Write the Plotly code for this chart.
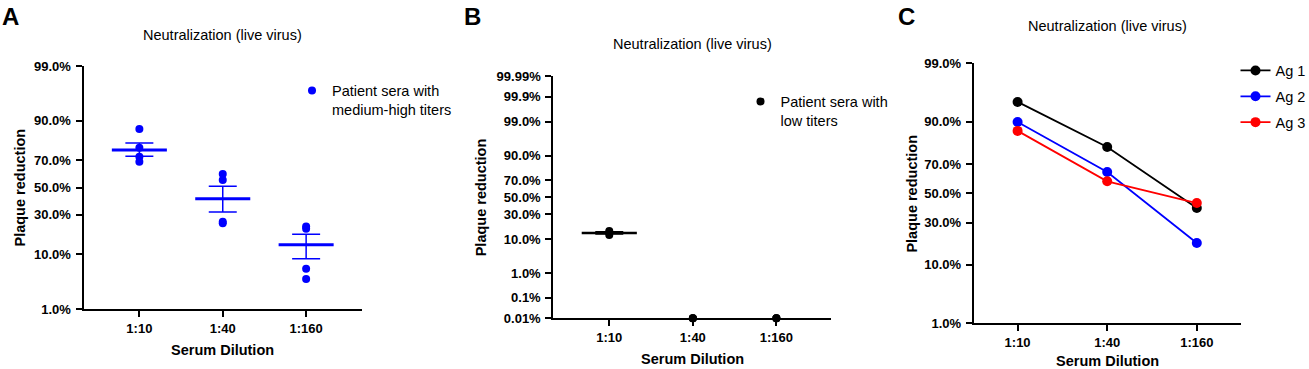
from statistics import NormalDist
import plotly.graph_objects as go

W, H = 1309, 369
FONT = "Liberation Sans, Arial, sans-serif"
nd = NormalDist()

def z(p):
    return nd.inv_cdf(p / 100.0)

# ---------------- data ----------------
categories = ["1:10", "1:40", "1:160"]

# Panel A: patient sera with medium-high titers (% plaque reduction)
a_points = [
    [86.9, 77.7, 72.2, 68.9],
    [60.2, 55.7, 25.6, 24.7],
    [22.7, 21.5, 6.0, 4.0],
]
a_mean = [76.4, 41.5, 13.6]
a_sem = [3.9, 9.5, 5.0]

# Panel B: patient sera with low titers
b_points = [
    [15.0, 13.8, 12.4],
    [0.01, 0.01, 0.01],
    [0.01, 0.01, 0.01],
]
b_mean = [13.7, None, None]
b_sem = [0.8, None, None]

# Panel C: antigens
c_series = {
    "Ag 1": [94.9, 79.6, 39.6],
    "Ag 2": [89.9, 64.8, 18.7],
    "Ag 3": [86.8, 58.5, 43.1],
}
c_colors = {"Ag 1": "#000000", "Ag 2": "#0000ff", "Ag 3": "#ff0000"}

ticks_ac = [1, 10, 30, 50, 70, 90, 99]
ticktext_ac = ["1.0%", "10.0%", "30.0%", "50.0%", "70.0%", "90.0%", "99.0%"]
ticks_b = [0.01, 0.1, 1, 10, 30, 50, 70, 90, 99, 99.9, 99.99]
ticktext_b = ["0.01%", "0.1%", "1.0%", "10.0%", "30.0%", "50.0%", "70.0%",
              "90.0%", "99.0%", "99.9%", "99.99%"]

# ---------------- layout helpers ----------------
def fx(px):
    return px / W

def fy(py):
    return 1 - py / H

panels = {
    "A": dict(x0=83.5, x1=362.0, y0=66.0, y1=309.0, xr=[-0.67, 2.67]),
    "B": dict(x0=553.3, x1=830.7, y0=76.3, y1=318.3, xr=[-0.67, 2.65]),
    "C": dict(x0=973.7, x1=1240.7, y0=63.3, y1=323.3, xr=[-0.49, 2.49]),
}

fig = go.Figure()

xs = list(range(len(categories)))

def mean_line(means, half):
    xx, yy = [], []
    for i, m in enumerate(means):
        if m is None:
            continue
        xx += [i - half, i + half, None]
        yy += [z(m), z(m), None]
    return xx, yy

def err_arrays(means, sems):
    ex, ey, up, dn = [], [], [], []
    for i, (m, s) in enumerate(zip(means, sems)):
        if m is None:
            continue
        ex.append(i)
        ey.append(z(m))
        up.append(z(min(m + s, 99.999)) - z(m))
        dn.append(z(m) - z(max(m - s, 0.001)))
    return ex, ey, up, dn

# ---- Panel A ----
px_, py_ = [], []
for i, pts in enumerate(a_points):
    for v in pts:
        px_.append(i)
        py_.append(z(v))
fig.add_trace(go.Scatter(
    x=px_, y=py_, mode="markers", xaxis="x", yaxis="y",
    marker=dict(color="#0000ff", size=8),
    name="Patient sera with<br>medium-high titers", legend="legend",
    cliponaxis=False))
mx, my = mean_line(a_mean, 0.33)
fig.add_trace(go.Scatter(x=mx, y=my, mode="lines", xaxis="x", yaxis="y",
                         line=dict(color="#0000ff", width=3), showlegend=False))
ex, ey, up, dn = err_arrays(a_mean, a_sem)
fig.add_trace(go.Scatter(
    x=ex, y=ey, mode="markers", xaxis="x", yaxis="y",
    marker=dict(size=1, color="rgba(0,0,0,0)"), showlegend=False,
    error_y=dict(type="data", symmetric=False, array=up, arrayminus=dn,
                 color="#0000ff", thickness=1.5, width=14)))

# ---- Panel B ----
px_, py_ = [], []
for i, pts in enumerate(b_points):
    for v in pts:
        px_.append(i)
        py_.append(z(v))
fig.add_trace(go.Scatter(
    x=px_, y=py_, mode="markers", xaxis="x2", yaxis="y2",
    marker=dict(color="#000000", size=8),
    name="Patient sera with<br>low titers", legend="legend2",
    cliponaxis=False))
mx, my = mean_line(b_mean, 0.33)
fig.add_trace(go.Scatter(x=mx, y=my, mode="lines", xaxis="x2", yaxis="y2",
                         line=dict(color="#000000", width=2.5), showlegend=False))
ex, ey, up, dn = err_arrays(b_mean, b_sem)
fig.add_trace(go.Scatter(
    x=ex, y=ey, mode="markers", xaxis="x2", yaxis="y2",
    marker=dict(size=1, color="rgba(0,0,0,0)"), showlegend=False,
    error_y=dict(type="data", symmetric=False, array=up, arrayminus=dn,
                 color="#000000", thickness=1.5, width=14)))

# ---- Panel C ----
for k, name in enumerate(c_series):
    fig.add_trace(go.Scatter(
        x=xs, y=[z(v) for v in c_series[name]], mode="lines+markers",
        xaxis="x3", yaxis="y3", name=name, legend="legend3",
        legendgroup=name,
        line=dict(color=c_colors[name], width=1.8),
        marker=dict(color=c_colors[name], size=10),
        cliponaxis=False))

# ---------------- axes ----------------
def xaxis(p):
    d = panels[p]
    return dict(
        domain=[fx(d["x0"]), fx(d["x1"])], range=d["xr"],
        tickvals=xs, ticktext=categories, showline=True, linecolor="black",
        linewidth=2, ticks="outside", ticklen=6, tickwidth=2, tickcolor="black",
        showgrid=False, zeroline=False, fixedrange=True, automargin=False,
        tickfont=dict(family=FONT, size=13, color="black", weight="bold"))

def yaxis(p, tv, tt, lo, hi, anchor):
    d = panels[p]
    return dict(
        domain=[fy(d["y1"]), fy(d["y0"])], range=[z(lo), z(hi)],
        tickvals=[z(t) for t in tv], ticktext=tt, showline=True,
        linecolor="black", linewidth=2, ticks="outside", ticklen=6,
        tickwidth=2, tickcolor="black", showgrid=False, zeroline=False,
        anchor=anchor, fixedrange=True, ticklabelstandoff=2, automargin=False,
        tickfont=dict(family=FONT, size=13, color="black", weight="bold"))

fig.update_layout(
    xaxis=dict(xaxis("A"), anchor="y"),
    yaxis=yaxis("A", ticks_ac, ticktext_ac, 1, 99, "x"),
    xaxis2=dict(xaxis("B"), anchor="y2"),
    yaxis2=yaxis("B", ticks_b, ticktext_b, 0.01, 99.99, "x2"),
    xaxis3=dict(xaxis("C"), anchor="y3"),
    yaxis3=yaxis("C", ticks_ac, ticktext_ac, 1, 99, "x3"),
)

# ---------------- legends ----------------
leg_common = dict(font=dict(family=FONT, size=14.5, color="black"),
                  bgcolor="rgba(0,0,0,0)", borderwidth=0,
                  xanchor="left", yanchor="top", xref="paper", yref="paper")
fig.update_layout(
    legend=dict(leg_common, x=fx(292), y=fy(74.5), valign="top"),
    legend2=dict(leg_common, x=fx(740.5), y=fy(85.5), valign="top"),
    legend3=dict(leg_common, x=fx(1235.5), y=fy(54.5), tracegroupgap=4),
)

# ---------------- annotations ----------------
ann = []
def text(x, y, s, size, bold=False, angle=0):
    ann.append(dict(x=fx(x), y=fy(y), xref="paper", yref="paper", text=s,
                    showarrow=False, xanchor="center", yanchor="middle",
                    textangle=angle,
                    font=dict(family=FONT, size=size, color="black",
                              weight="bold" if bold else "normal")))

for p, d in panels.items():
    cx = (d["x0"] + d["x1"]) / 2
    cy = (d["y0"] + d["y1"]) / 2
    ann_title_y = {"A": 35, "B": 44, "C": 26}[p]
    text(cx, ann_title_y, "Neutralization (live virus)", 14.5)
    ylab_x = {"A": 19, "B": 481, "C": 912.3}[p]
    text(ylab_x, cy, "Plaque reduction", 14.5, bold=True, angle=-90)
    xlab_y = {"A": 350, "B": 359, "C": 360.5}[p]
    text(cx, xlab_y, "Serum Dilution", 14.5, bold=True)

text(10, 16.5, "A", 24, bold=True)
text(472.3, 16, "B", 24, bold=True)
text(906.7, 16, "C", 24, bold=True)

fig.update_layout(
    annotations=ann, width=W, height=H,
    margin=dict(l=0, r=0, t=0, b=0, pad=0, autoexpand=False),
    paper_bgcolor="white", plot_bgcolor="white",
    font=dict(family=FONT, color="black"),
)

fig.write_html(
    "out.html",
    config={"displayModeBar": False},
    post_script="document.body.style.margin='0';document.body.style.overflow='hidden';",
)
